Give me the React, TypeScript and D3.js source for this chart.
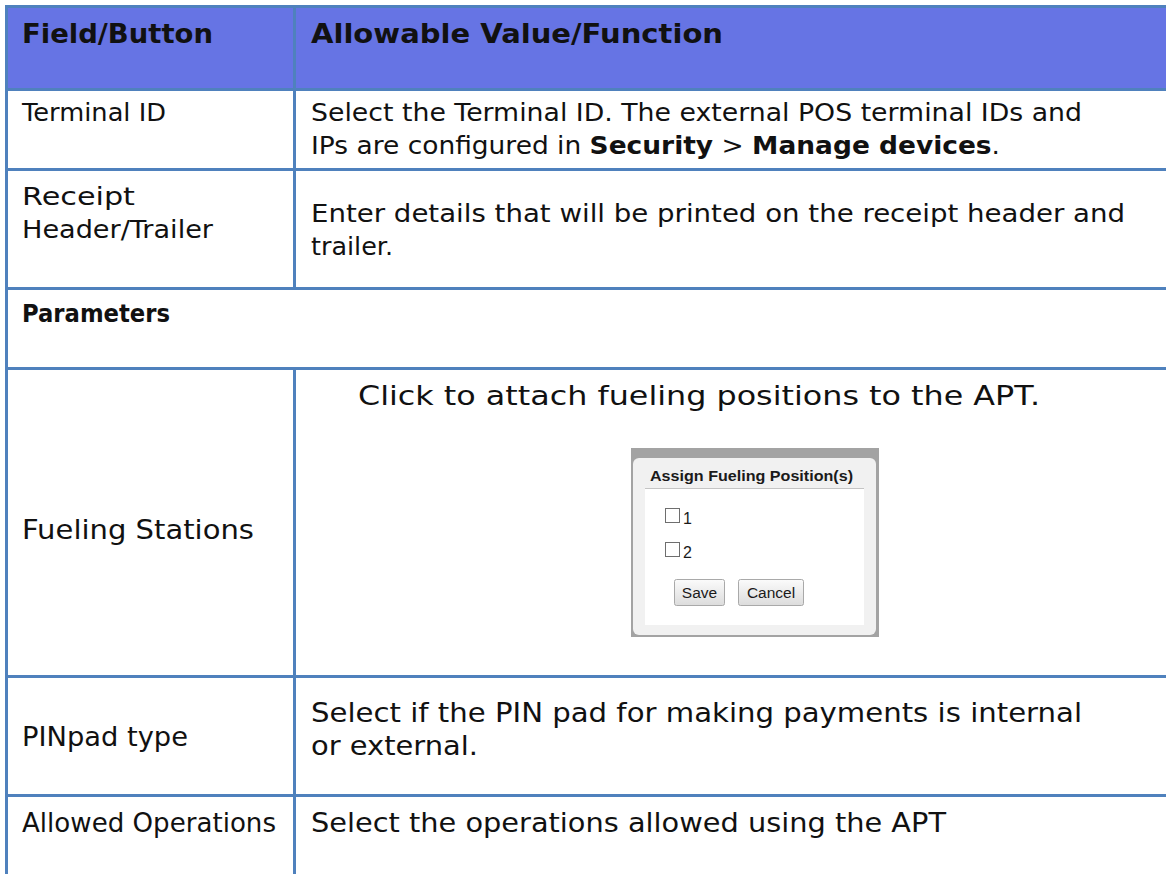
import React, { useEffect, useRef } from 'react';
import * as d3 from 'd3';

type Run = { text: string; bold?: boolean };

// table content
const headerLabels = ['Field/Button', 'Allowable Value/Function'];
const fieldLabels: string[][] = [
  ['Terminal ID'],
  ['Receipt', 'Header/Trailer'],
  ['Parameters'],
  ['Fueling Stations'],
  ['PINpad type'],
  ['Allowed Operations'],
];
const valueLines: Run[][][] = [
  [
    [{ text: 'Select the Terminal ID. The external POS terminal IDs and' }],
    [
      { text: 'IPs are configured in ' },
      { text: 'Security', bold: true },
      { text: ' > ' },
      { text: 'Manage devices', bold: true },
      { text: '.' },
    ],
  ],
  [[{ text: 'Enter details that will be printed on the receipt header and' }], [{ text: 'trailer.' }]],
  [],
  [[{ text: 'Click to attach fueling positions to the APT.' }]],
  [[{ text: 'Select if the PIN pad for making payments is internal' }], [{ text: 'or external.' }]],
  [[{ text: 'Select the operations allowed using the APT' }]],
];
const sectionRows = [2]; // rows spanning both columns, bold
const largeRows = [3, 4, 5];

// screenshot inside "Fueling Stations"
const dialogTitle = 'Assign Fueling Position(s)';
const dialogOptions = ['1', '2'];
const dialogButtons = ['Save', 'Cancel'];

// layout (pixels)
const W = 1166;
const H = 874;
const rowEdges = [5, 88, 168, 287, 367, 675, 794, 900];
const colEdges = [5, 293, 1200];
const headWidths = [191, 412];
const labelBase = [121, 205, 322, 539, 746, 832];
const labelWidths = [[144], [113, 191], [148], [232], [166], [254]];
const valueBase = [121, 222, 0, 405, 722, 832];
const valueWidths = [[771, 689], [814, 82], [], [682], [771, 167], [635]];
const valueX = [311, 311, 311, 358, 311, 311];
const lineGap = 33;
const SMALL = 24.5;
const LARGE = 26.5;
const HEAD = 26;
const FONT = "'DejaVu Sans', Verdana, sans-serif";
const BORDER = '#4F81BD';
const HEAD_FILL = '#6674E4';
const UI_FONT = "'Liberation Sans', Arial, sans-serif";

function App() {
  const svgRef = useRef<SVGSVGElement>(null);

  useEffect(() => {
    const svg = d3.select(svgRef.current);
    svg.selectAll('*').remove();

    const y = d3.scaleOrdinal<number, number>().domain(d3.range(rowEdges.length)).range(rowEdges);

    svg.append('rect').attr('width', W).attr('height', H).attr('fill', '#fff');

    // header band
    svg.append('rect')
      .attr('x', colEdges[0]).attr('y', y(0))
      .attr('width', colEdges[2] - colEdges[0]).attr('height', y(1) - y(0))
      .attr('fill', HEAD_FILL);

    svg.selectAll('.head')
      .data(headerLabels)
      .enter()
      .append('text')
      .attr('class', 'head')
      .attr('x', (d, i) => (i === 0 ? 22 : valueX[0]))
      .attr('y', 43)
      .attr('font-family', FONT)
      .attr('font-weight', 'bold')
      .attr('font-size', HEAD)
      .attr('fill', '#111')
      .attr('textLength', (d, i) => headWidths[i])
      .attr('lengthAdjust', 'spacingAndGlyphs')
      .text(d => d);

    // grid lines
    const g = svg.append('g').attr('stroke', BORDER).attr('stroke-width', 3);
    rowEdges.slice(0, -1).forEach(ry => {
      g.append('line').attr('x1', colEdges[0]).attr('x2', W).attr('y1', ry + 1.5).attr('y2', ry + 1.5);
    });
    g.append('line').attr('x1', colEdges[0] + 1.5).attr('x2', colEdges[0] + 1.5).attr('y1', y(0)).attr('y2', H);
    d3.range(rowEdges.length - 1).forEach(i => {
      if (sectionRows.includes(i - 1)) return;
      g.append('line')
        .attr('x1', colEdges[1] + 1.5).attr('x2', colEdges[1] + 1.5)
        .attr('y1', y(i)).attr('y2', y(i + 1) + 3);
    });

    // field labels
    fieldLabels.forEach((lines, r) => {
      const bold = sectionRows.includes(r);
      lines.forEach((ln, k) => {
        svg.append('text')
          .attr('x', 22)
          .attr('y', labelBase[r] + k * lineGap)
          .attr('font-family', FONT)
          .attr('font-size', largeRows.includes(r) ? LARGE : bold ? 25 : SMALL)
          .attr('font-weight', bold ? 'bold' : 'normal')
          .attr('fill', '#111')
          .attr('textLength', labelWidths[r][k])
          .attr('lengthAdjust', 'spacingAndGlyphs')
          .text(ln);
      });
    });

    // values
    valueLines.forEach((lines, r) => {
      lines.forEach((runs, k) => {
        const t = svg.append('text')
          .attr('x', valueX[r])
          .attr('y', valueBase[r] + k * lineGap)
          .attr('font-family', FONT)
          .attr('font-size', largeRows.includes(r) ? LARGE : SMALL)
          .attr('fill', '#111')
          .attr('textLength', valueWidths[r][k])
          .attr('lengthAdjust', 'spacingAndGlyphs');
        runs.forEach(run => {
          t.append('tspan').attr('font-weight', run.bold ? 'bold' : 'normal').text(run.text);
        });
      });
    });

    // dialog screenshot
    const dlg = svg.append('g').attr('transform', 'translate(631,448)');
    dlg.append('rect').attr('width', 248).attr('height', 189).attr('fill', '#a3a3a3');
    dlg.append('rect').attr('x', 2).attr('y', 10).attr('width', 243).attr('height', 177)
      .attr('rx', 6).attr('fill', '#f1f1f1');
    dlg.append('text').attr('x', 19).attr('y', 33)
      .attr('font-family', UI_FONT).attr('font-weight', 'bold')
      .attr('font-size', 15).attr('fill', '#1a1a1a')
      .attr('textLength', 203).attr('lengthAdjust', 'spacingAndGlyphs')
      .text(dialogTitle);
    dlg.append('rect').attr('x', 14).attr('y', 40).attr('width', 219).attr('height', 137).attr('fill', '#fff');
    dlg.append('line').attr('x1', 14).attr('x2', 233).attr('y1', 40.5).attr('y2', 40.5)
      .attr('stroke', '#c4c4c4').attr('stroke-width', 1);

    const opt = d3.scaleBand<string>().domain(dialogOptions).range([56, 124]).paddingInner(0);
    dlg.selectAll('.opt')
      .data(dialogOptions)
      .enter()
      .append('g')
      .attr('class', 'opt')
      .attr('transform', d => `translate(34,${opt(d)})`)
      .each(function (d) {
        const og = d3.select(this);
        og.append('rect').attr('x', 0.5).attr('y', 4.5).attr('width', 14).attr('height', 14)
          .attr('fill', '#fff').attr('stroke', '#6e6e6e').attr('stroke-width', 1);
        og.append('text').attr('x', 18).attr('y', 19.5)
          .attr('font-family', UI_FONT)
          .attr('font-size', 16).attr('fill', '#1a1a1a').text(d);
      });

    const btnX = [43, 107];
    const btnW = [50, 65];
    const grad = svg.append('defs').append('linearGradient').attr('id', 'btn')
      .attr('x1', 0).attr('x2', 0).attr('y1', 0).attr('y2', 1);
    grad.append('stop').attr('offset', '0%').attr('stop-color', '#fbfbfb');
    grad.append('stop').attr('offset', '100%').attr('stop-color', '#dcdcdc');
    dialogButtons.forEach((b, i) => {
      dlg.append('rect').attr('x', btnX[i] + 0.5).attr('y', 131.5).attr('width', btnW[i]).attr('height', 26)
        .attr('rx', 2).attr('fill', 'url(#btn)').attr('stroke', '#a9a9a9');
      dlg.append('text').attr('x', btnX[i] + btnW[i] / 2 + 0.5).attr('y', 150)
        .attr('text-anchor', 'middle')
        .attr('font-family', UI_FONT)
        .attr('font-size', 15.5).attr('fill', '#1a1a1a').text(b);
    });
  }, []);

  return (
    <svg ref={svgRef} width={W} height={H}
      style={{ position: 'fixed', left: 0, top: 0, display: 'block' }} />
  );
}

export default App;
